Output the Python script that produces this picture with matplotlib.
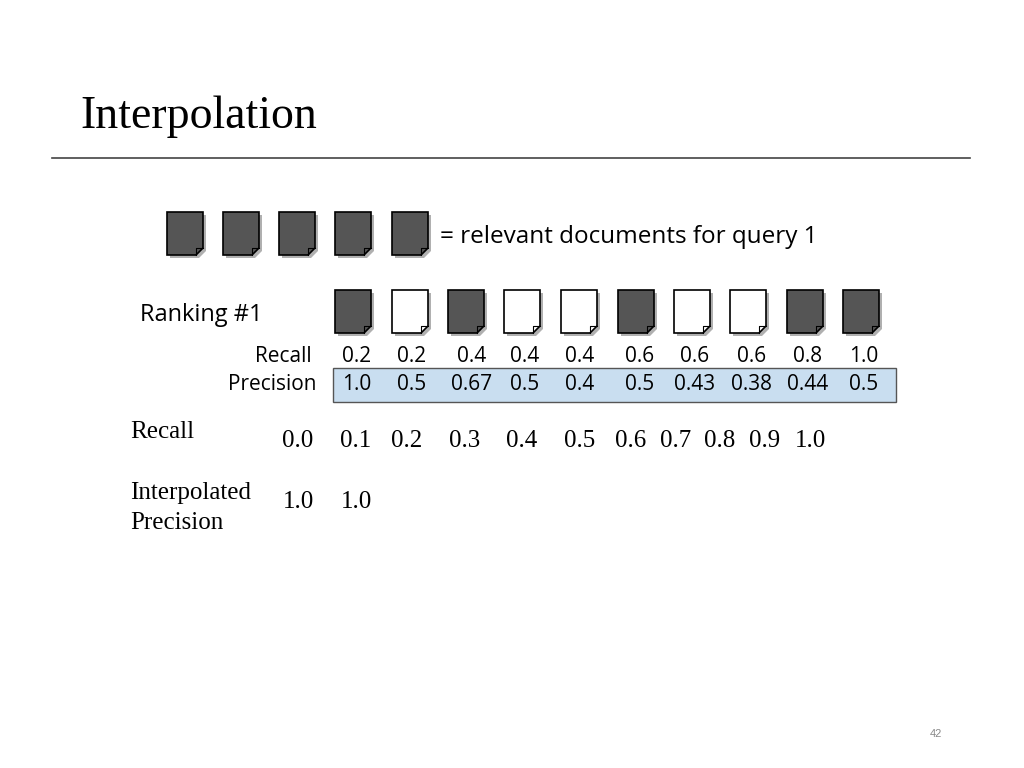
import matplotlib.pyplot as plt
from matplotlib.patches import Polygon, Rectangle

relevant = [1, 0, 1, 0, 0, 1, 0, 0, 1, 1]
recall = ["0.2", "0.2", "0.4", "0.4", "0.4", "0.6", "0.6", "0.6", "0.8", "1.0"]
precision = ["1.0", "0.5", "0.67", "0.5", "0.4", "0.5", "0.43", "0.38", "0.44", "0.5"]
recall_levels = ["0.0", "0.1", "0.2", "0.3", "0.4", "0.5", "0.6", "0.7", "0.8", "0.9", "1.0"]
interp_precision = ["1.0", "1.0"]

doc_x = [353, 410, 466, 522, 579, 636, 692, 748, 805, 861]
rec_x = [357, 412, 472, 525, 580, 640, 695, 752, 808, 864]
lvl_x = [298, 356, 407, 465, 522, 580, 631, 676, 720, 765, 810]

fig = plt.figure(figsize=(10.24, 7.68), dpi=100)
ax = fig.add_axes([0, 0, 1, 1])
ax.set_xlim(0, 1024)
ax.set_ylim(768, 0)
ax.axis("off")

serif = "Liberation Serif"
sans = "Open Sans"


def doc(cx, top, filled):
    w, h, f = 36, 43, 7
    x0, x1, y1 = cx - w / 2, cx + w / 2, top + h
    pts = [(x0, top), (x1, top), (x1, y1 - f), (x1 - f, y1), (x0, y1)]
    ax.add_patch(Polygon([(x + 3, y + 3) for x, y in pts], closed=True, fc="#b0b0b0", ec="none"))
    ax.add_patch(Polygon(pts, closed=True, fc="#555555" if filled else "white", ec="black", lw=1.2))
    ax.plot([x1, x1 - f, x1 - f], [y1 - f, y1 - f, y1], color="black", lw=0.8)


ax.text(80, 117, "Interpolation", family=serif, fontsize=33, va="center")
ax.plot([52, 970], [158, 158], color="#444444", lw=1.2)

for cx in [185, 241, 297, 353, 410]:
    doc(cx, 212, True)
ax.text(440, 237, "= relevant documents for query 1", family=sans, fontsize=17.5, va="center")

ax.text(140, 315, "Ranking #1", family=sans, fontsize=17, va="center")
for cx, r in zip(doc_x, relevant):
    doc(cx, 290, r)

ax.text(312, 357, "Recall", family=sans, fontsize=15, va="center", ha="right")
ax.text(316, 384, "Precision", family=sans, fontsize=15, va="center", ha="right")
ax.add_patch(Rectangle((333, 368), 563, 34, fc="#c9def0", ec="#555555", lw=1))
for x, r, p in zip(rec_x, recall, precision):
    ax.text(x, 357, r, family=sans, fontsize=15, va="center", ha="center")
    ax.text(x, 384, p, family=sans, fontsize=15, va="center", ha="center")

ax.text(130, 432, "Recall", family=serif, fontsize=18, va="center")
for x, v in zip(lvl_x, recall_levels):
    ax.text(x, 441, v, family=serif, fontsize=18, va="center", ha="center")
ax.text(130, 493, "Interpolated", family=serif, fontsize=18, va="center")
ax.text(130, 523, "Precision", family=serif, fontsize=18, va="center")
for x, v in zip(lvl_x, interp_precision):
    ax.text(x, 502, v, family=serif, fontsize=18, va="center", ha="center")

ax.text(936, 734, "42", family="Liberation Sans", fontsize=8, color="#888888", va="center", ha="center")

fig.savefig("out.png", dpi=100)
